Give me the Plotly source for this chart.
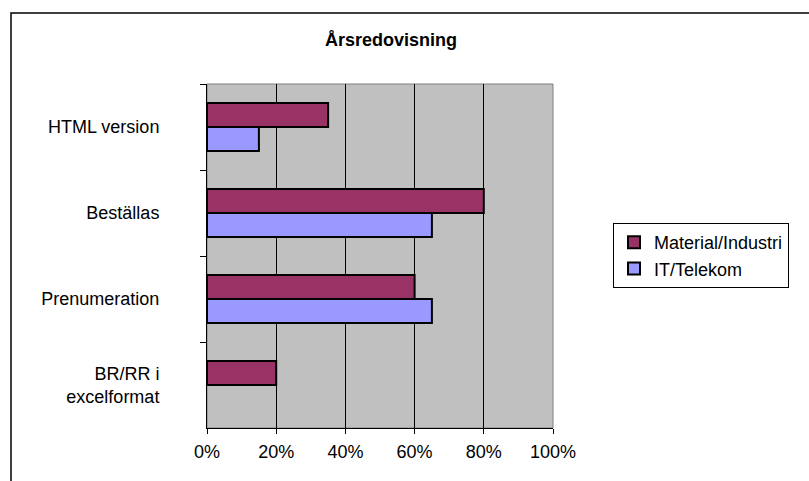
import plotly.graph_objects as go

categories = ["HTML version", "Beställas", "Prenumeration", "BR/RR i<br>excelformat"]
material_industri = [0.35, 0.80, 0.60, 0.20]
it_telekom = [0.15, 0.65, 0.65, None]
x_ticks = [0, 0.2, 0.4, 0.6, 0.8, 1.0]

W, H = 809, 481
ML, MR, MT, MB = 207, 256, 84, 53
PW, PH = W - ML - MR, H - MT - MB

FONT = "Liberation Sans, Arial, sans-serif"

fig = go.Figure()
fig.add_trace(go.Bar(
    y=categories, x=material_industri, orientation="h", name="Material/Industri",
    marker=dict(color="#993366", line=dict(color="black", width=2)),
))
fig.add_trace(go.Bar(
    y=categories, x=it_telekom, orientation="h", name="IT/Telekom",
    marker=dict(color="#9999FF", line=dict(color="black", width=2)),
))

def px_to_paper_x(px):
    return (px - ML) / PW

def px_to_paper_y(py):
    return (H - MB - py) / PH

fig.update_layout(
    width=W, height=H,
    margin=dict(l=ML, r=MR, t=MT, b=MB, pad=0),
    paper_bgcolor="white",
    plot_bgcolor="#C0C0C0",
    barmode="group",
    bargap=0.44,
    bargroupgap=0,
    font=dict(family=FONT, size=18, color="black"),
    title=dict(text="<b>Årsredovisning</b>", x=391 / W, xanchor="center",
               xref="container", yref="container", y=1 - 40 / H, yanchor="middle",
               font=dict(size=18, family=FONT, color="black")),
    legend=dict(xref="container", yref="container", x=613 / W, y=1 - 223 / H,
                xanchor="left", yanchor="top", bordercolor="black", borderwidth=1,
                bgcolor="white", font=dict(size=18, family=FONT), traceorder="normal",
                itemclick=False, tracegroupgap=0),
    xaxis=dict(range=[0, 1], tickvals=x_ticks, tickformat=".0%",
               showgrid=True, gridcolor="black", gridwidth=1,
               showline=True, linecolor="black", linewidth=1,
               ticks="outside", ticklen=5, tickcolor="black",
               zeroline=False, fixedrange=True, ticklabelstandoff=2),
    yaxis=dict(type="category", categoryorder="array", categoryarray=categories,
               autorange="reversed", showgrid=False,
               showline=True, linecolor="black", linewidth=1,
               ticks="outside", ticklen=6, tickcolor="black", tickson="boundaries",
               ticklabelstandoff=43, zeroline=False, fixedrange=True),
    shapes=[
        dict(type="rect", xref="paper", yref="paper", x0=0, x1=1, y0=0, y1=1,
             line=dict(color="#808080", width=1), layer="below"),
        dict(type="rect", xref="paper", yref="paper",
             x0=px_to_paper_x(11), x1=px_to_paper_x(W + 10),
             y0=px_to_paper_y(H + 10), y1=px_to_paper_y(13),
             line=dict(color="black", width=1.5)),
    ],
)

fig.write_html("out.html")
